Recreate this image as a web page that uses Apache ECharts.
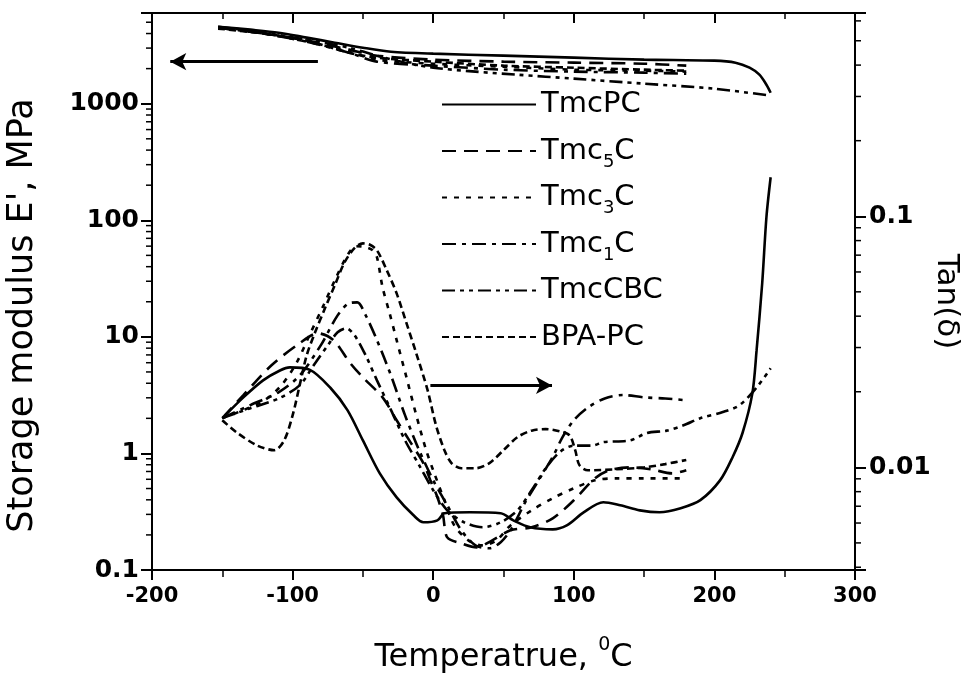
<!DOCTYPE html>
<html><head><meta charset="utf-8">
<script src="https://cdn.jsdelivr.net/npm/echarts@6/dist/echarts.min.js"></script>
<style>html,body{margin:0;padding:0;background:#fff}#c{width:967px;height:681px}</style>
</head><body><div id="c"></div>
<script>
// ---------- data ----------
const seriesNames = ['TmcPC', 'Tmc5C', 'Tmc3C', 'Tmc1C', 'TmcCBC', 'BPA-PC'];
const xTicks = [-200, -100, 0, 100, 200, 300];
const leftMinorTicks = [0.2,0.3,0.4,0.5,0.6,0.7,0.8,0.9, 2,3,4,5,6,7,8,9, 20,30,40,50,60,70,80,90, 200,300,400,500,600,700,800,900, 2000,3000,4000,5000];
const rightMinorTicks = [0.004,0.005,0.006,0.007,0.008,0.009, 0.02,0.03,0.04,0.05,0.06,0.07,0.08,0.09, 0.2,0.3,0.4,0.5,0.6];

// Storage modulus E' (MPa)
const eT_TmcPC = [-153,-130,-110,-90,-70,-50,-30,0,50,100,150,200,215,225,232,237,240];
const eV_TmcPC = [4580,4317,4067,3690,3340,3025,2795,2687,2583,2483,2388,2340,2250,2037,1774,1456,1243];
const eT_TmcCBC = [-153,-120,-90,-60,-40,-20,0,30,60,100,150,200,240];
const eV_TmcCBC = [4580,4067,3540,3025,2583,2250,2037,1884,1774,1640,1486,1345,1172];
const eT_common = [-153,-120,-90,-60,-40,0,50,100,150,180];
const eV_Tmc5C = [4487,3990,3475,2910,2583,2388,2296,2250,2205,2120];
const eV_Tmc3C = [4487,3990,3405,2795,2388,2205,2078,1959,1920,1884];
const eV_Tmc1C = [4487,3990,3405,2741,2296,2120,1959,1884,1847,1810];
const eV_BPAPC = [4404,3990,3475,2741,2483,2296,2120,2037,1959,1920];

// Tan(delta)
const tT_TmcPC = [-148,-135,-121,-109,-102,-88,-73,-61,-50,-38,-26,-14,-7,3,8,26,48,57,69,85,95,107,121,133,147,161,176,190,204,213,220,227,230,234,237,240];
const tV_TmcPC = [0.0161,0.0190,0.0222,0.0243,0.0250,0.0245,0.0207,0.0169,0.0128,0.00946,0.00759,0.00644,0.00604,0.00615,0.00656,0.00662,0.00656,0.00615,0.00577,0.00566,0.00587,0.00662,0.00726,0.00706,0.00674,0.00662,0.00687,0.0074,0.00887,0.0110,0.0137,0.0197,0.0292,0.0541,0.0991,0.143];
const tT_Tmc5C = [-150,-135,-115,-95,-82,-71,-59,-50,-36,-26,-17,-7,-2,3,7,10,20,31,42,55,70,85,100,115,125,140,155,170,180];
const tV_Tmc5C = [0.0157,0.0194,0.0255,0.0312,0.0342,0.0321,0.0260,0.0228,0.0190,0.0154,0.0128,0.0104,0.00888,0.00760,0.00644,0.00526,0.00498,0.00480,0.00512,0.00561,0.00577,0.00626,0.00739,0.00904,0.00973,0.0100,0.00982,0.00946,0.00973];
const tT_Tmc3C = [-150,-135,-120,-108,-97,-88,-78,-69,-61,-55,-48,-43,-40,-36,-31,-26,-19,-12,-5,0,8,15,25,35,45,55,70,85,100,115,130,150,180];
const tV_Tmc3C = [0.0157,0.0169,0.0185,0.0212,0.0262,0.0336,0.0442,0.0571,0.0699,0.0760,0.0753,0.0732,0.0687,0.0521,0.0411,0.0321,0.0228,0.0161,0.0117,0.00973,0.00739,0.00587,0.00512,0.00489,0.00512,0.00587,0.00674,0.00753,0.00825,0.00888,0.00904,0.00904,0.00904];
const tT_Tmc1C = [-150,-130,-110,-95,-80,-68,-60,-54,-48,-40,-30,-20,-10,0,10,20,30,40,48,55,60,65,75,85,92,100,110,122,135,150,165,180];
const tV_Tmc1C = [0.0157,0.0177,0.0199,0.0232,0.0306,0.0403,0.0450,0.0454,0.0403,0.0321,0.0232,0.0161,0.0117,0.00888,0.00706,0.00561,0.00489,0.00476,0.00503,0.00561,0.00632,0.00719,0.00888,0.0110,0.0132,0.0154,0.0173,0.0188,0.0194,0.0190,0.0188,0.0185];
const tT_TmcCBC = [-150,-130,-110,-95,-85,-75,-68,-62,-56,-48,-40,-30,-20,-10,0,10,22,35,48,60,70,80,90,100,113,121,140,152,166,178,190,206,218,230,240];
const tV_TmcCBC = [0.0157,0.0172,0.0188,0.0212,0.0255,0.0306,0.0345,0.0358,0.0336,0.0279,0.0222,0.0169,0.0128,0.0102,0.00810,0.00674,0.00604,0.00577,0.00604,0.00674,0.00810,0.00991,0.0115,0.0122,0.0122,0.0126,0.0128,0.0137,0.0140,0.0147,0.0157,0.0166,0.0177,0.0208,0.0248];
const tT_BPAPC = [-150,-140,-125,-113,-106,-100,-95,-90,-84,-77,-70,-63,-56,-50,-45,-40,-33,-26,-19,-12,-4,2,8,13,20,30,40,50,60,70,80,90,97,101,104,110,130,150,165,180];
const tV_BPAPC = [0.0154,0.0138,0.0122,0.0117,0.0128,0.0161,0.0212,0.0279,0.0345,0.0430,0.0531,0.0656,0.0746,0.0780,0.0770,0.0732,0.0609,0.0493,0.0375,0.0284,0.0203,0.0147,0.0117,0.0104,0.00991,0.00991,0.0104,0.0117,0.0132,0.0140,0.0142,0.0139,0.0134,0.0117,0.0102,0.00973,0.00982,0.0100,0.0103,0.0107];

// arrows: from T, to T, value
const arrowE = [-82, -187, 2296];
const arrowTan = [-2, 84.5, 0.0212];

// ---------- build ----------
const FONT = 'DejaVu Sans';
const dashes = {
  'TmcPC': 'solid',
  'Tmc5C': [14, 8],
  'Tmc3C': [5, 7],
  'Tmc1C': [14, 6, 4, 6],
  'TmcCBC': [13, 5, 4, 5, 4, 5],
  'BPA-PC': [7, 4]
};
function zip(a, b) { return a.map((v, i) => [v, b[i]]); }
function line(name, data, yIdx, extra) {
  return Object.assign({
    name, type: 'line', yAxisIndex: yIdx, data, symbol: 'none', smooth: 0.3,
    lineStyle: { color: '#000', width: 2.6, type: dashes[name] },
    itemStyle: { color: '#000' }, z: 3
  }, extra || {});
}
function minorTicks(vals, yIdx, xVal, dir) {
  return {
    type: 'custom', xAxisIndex: 0, yAxisIndex: yIdx, silent: true, clip: false, z: 6,
    data: vals.map(v => [xVal, v]), encode: { x: 0, y: 1 },
    renderItem: (p, api) => {
      const c = api.coord([api.value(0), api.value(1)]);
      return { type: 'line', shape: { x1: c[0], y1: c[1], x2: c[0] + dir * 6, y2: c[1] },
        style: { stroke: '#000', lineWidth: 1.5 } };
    }
  };
}
function logLabel(v) {
  const e = Math.log10(v);
  if (Math.abs(e - Math.round(e)) > 1e-6) return '';
  return String(Math.pow(10, Math.round(e)));
}
const arrowLine = (a) => ({
  silent: true, symbol: ['none', 'arrow'], symbolSize: [13, 16],
  lineStyle: { color: '#000', width: 3, type: 'solid' }, label: { show: false },
  data: [[{ coord: [a[0], a[2]] }, { coord: [a[1], a[2]] }]]
});

const series = [
  line('TmcPC', zip(eT_TmcPC, eV_TmcPC), 0, { markLine: arrowLine(arrowE) }),
  line('Tmc5C', zip(eT_common, eV_Tmc5C), 0),
  line('Tmc3C', zip(eT_common, eV_Tmc3C), 0),
  line('Tmc1C', zip(eT_common, eV_Tmc1C), 0),
  line('TmcCBC', zip(eT_TmcCBC, eV_TmcCBC), 0),
  line('BPA-PC', zip(eT_common, eV_BPAPC), 0),
  line('TmcPC', zip(tT_TmcPC, tV_TmcPC), 1, { markLine: arrowLine(arrowTan) }),
  line('Tmc5C', zip(tT_Tmc5C, tV_Tmc5C), 1),
  line('Tmc3C', zip(tT_Tmc3C, tV_Tmc3C), 1),
  line('Tmc1C', zip(tT_Tmc1C, tV_Tmc1C), 1),
  line('TmcCBC', zip(tT_TmcCBC, tV_TmcCBC), 1),
  line('BPA-PC', zip(tT_BPAPC, tV_BPAPC), 1),
  minorTicks(leftMinorTicks, 0, xTicks[0], -1),
  minorTicks(rightMinorTicks, 1, xTicks[xTicks.length - 1], 1)
];

const axisLine = { show: true, onZero: false, lineStyle: { color: '#000', width: 2 } };
const xNumLabel = { color: '#000', fontFamily: FONT, fontWeight: 'bold', fontSize: 21 };
const yNumLabel = { color: '#000', fontFamily: FONT, fontWeight: 'bold', fontSize: 25 };

const option = {
  animation: false,
  backgroundColor: '#fff',
  grid: { left: 152, right: 112, top: 13, bottom: 111, containLabel: false, outerBoundsMode: 'none' },
  legend: {
    data: seriesNames, orient: 'vertical', left: 436, top: 85,
    itemWidth: 94, itemHeight: 14, itemGap: 12,
    itemStyle: { opacity: 0 },
    formatter: n => {
      const m = n.match(/^Tmc(\d)C$/);
      return m ? '{n|Tmc}{s|' + m[1] + '}{n|C}' : '{n|' + n + '}{s| }';
    },
    textStyle: {
      color: '#000', fontFamily: FONT, fontSize: 29,
      rich: {
        n: { fontFamily: FONT, fontSize: 29, lineHeight: 40, color: '#000' },
        s: { fontFamily: FONT, fontSize: 18, lineHeight: 18, verticalAlign: 'bottom', color: '#000' }
      }
    }
  },
  xAxis: [
    {
      type: 'value', position: 'bottom', min: xTicks[0], max: xTicks[xTicks.length - 1], interval: 100,
      axisLine, splitLine: { show: false },
      axisTick: { show: true, length: 10, lineStyle: { color: '#000', width: 2 } },
      minorTick: { show: true, splitNumber: 2, length: 7, lineStyle: { color: '#000', width: 1.5 } },
      axisLabel: Object.assign({ margin: 16 }, xNumLabel),
      name: 'Temperatrue, {sup|0}C', nameLocation: 'middle', nameGap: 66, nameMoveOverlap: false,
      nameTextStyle: {
        color: '#000', fontFamily: FONT, fontSize: 32,
        rich: { sup: { fontFamily: FONT, fontSize: 19, lineHeight: 44, verticalAlign: 'top', color: '#000' } }
      }
    },
    {
      type: 'value', position: 'top', min: xTicks[0], max: xTicks[xTicks.length - 1], interval: 100,
      axisLine, splitLine: { show: false }, axisLabel: { show: false },
      axisTick: { show: true, inside: true, length: 10, lineStyle: { color: '#000', width: 2 } },
      minorTick: { show: true, splitNumber: 2, length: 6, lineStyle: { color: '#000', width: 1.5 } }
    }
  ],
  yAxis: [
    {
      type: 'log', logBase: 10, min: 0.1, max: 6000, position: 'left',
      axisLine, splitLine: { show: false }, minorTick: { show: false }, minorSplitLine: { show: false },
      axisTick: { show: true, length: 11, lineStyle: { color: '#000', width: 2 } },
      axisLabel: Object.assign({ margin: 13, formatter: logLabel, showMaxLabel: true }, yNumLabel),
      name: "Storage modulus E', MPa", nameLocation: 'middle', nameGap: 112, nameRotate: 90, nameMoveOverlap: false,
      nameTextStyle: { color: '#000', fontFamily: FONT, fontSize: 35, padding: [0, 48, 0, 0] }
    },
    {
      type: 'log', logBase: 10, min: 0.0039, max: 0.645, position: 'right',
      axisLine, splitLine: { show: false }, minorTick: { show: false }, minorSplitLine: { show: false },
      axisTick: { show: true, length: 11, lineStyle: { color: '#000', width: 2 } },
      axisLabel: Object.assign({ margin: 14, formatter: logLabel }, yNumLabel),
      name: 'Tan(δ)', nameLocation: 'middle', nameGap: 76, nameRotate: -90, nameMoveOverlap: false,
      nameTextStyle: { color: '#000', fontFamily: FONT, fontSize: 31, padding: [0, 0, 0, 20] }
    }
  ],
  series
};
const chart = echarts.init(document.getElementById('c'), null, { renderer: 'canvas' });
chart.setOption(option);
</script></body></html>
